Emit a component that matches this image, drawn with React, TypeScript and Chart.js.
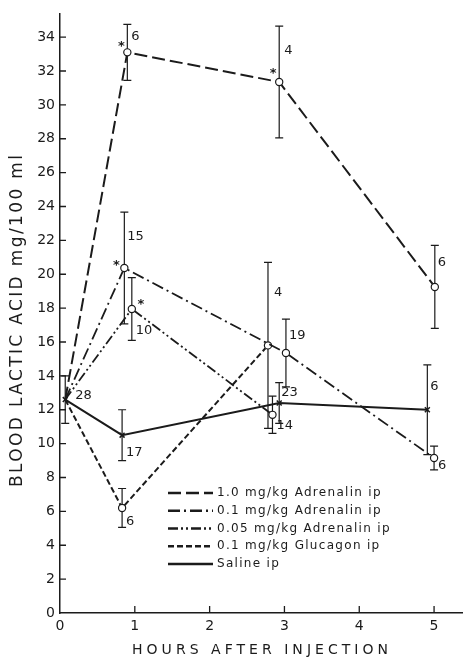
import React, { useEffect, useRef } from "react";
import { Chart, registerables } from "chart.js";

Chart.register(...registerables);

// ---------- data ----------
const seriesLabels = [
  "1.0 mg/kg Adrenalin ip",
  "0.1 mg/kg Adrenalin ip",
  "0.05 mg/kg Adrenalin ip",
  "0.1 mg/kg Glucagon ip",
  "Saline ip",
];

const xTickValues = [0, 1, 2, 3, 4, 5];
const yTickValues = [0, 2, 4, 6, 8, 10, 12, 14, 16, 18, 20, 22, 24, 26, 28, 30, 32, 34];

// control (time 0), shared start of every curve
const controlHour = 0.07;
const controlMean = 12.6;
const controlSem = 1.4;
const controlN = "28";

const adr10Hours = [0.9, 2.93, 5.01];
const adr10Mean = [33.1, 31.35, 19.25];
const adr10Sem = [1.65, 3.3, 2.45];
const adr10N = ["6", "4", "6"];
const adr10Sig = [true, true, false];

const adr01Hours = [0.86, 3.02, 5.0];
const adr01Mean = [20.37, 15.35, 9.15];
const adr01Sem = [3.3, 2.0, 0.7];
const adr01N = ["15", "19", "6"];
const adr01Sig = [true, false, false];

const adr005Hours = [0.96, 2.84];
const adr005Mean = [17.95, 11.7];
const adr005Sem = [1.85, 1.1];
const adr005N = ["10", "14"];
const adr005Sig = [true, false];

const glucHours = [0.83, 2.78];
const glucMean = [6.2, 15.8];
const glucSem = [1.15, 4.9];
const glucN = ["6", "4"];
const glucSig = [false, false];

const salineHours = [0.83, 2.93, 4.91];
const salineMean = [10.5, 12.4, 12.0];
const salineSem = [1.5, 1.2, 2.65];
const salineN = ["17", "23", "6"];
const salineSig = [false, false, false];

// ---------- layout / style (label offsets in px, relative to the point) ----------
const INK = "#1b1b1b";
const FONT = "'DejaVu Sans', sans-serif";

const adr10NOffsets = [[0, 0], [4, -16], [5, -31], [3, -24]];
const adr01NOffsets = [[0, 0], [3, -31], [3, -17], [4, 8]];
const adr005NOffsets = [[0, 0], [4, 22], [4, 11]];
const glucNOffsets = [[0, 0], [4, 14], [6, -53]];
const salineNOffsets = [[10, -4], [4, 17], [2, -10], [3, -23]];

const adr10StarOffsets = [[0, 0], [-6, -6], [-6, -8], [0, 0]];
const adr01StarOffsets = [[0, 0], [-8, -2], [0, 0], [0, 0]];
const adr005StarOffsets = [[0, 0], [9, -4], [0, 0]];

function pts(hours: number[], means: number[]) {
  return [{ x: controlHour, y: controlMean }].concat(
    hours.map((h, i) => ({ x: h, y: means[i] }))
  );
}

function circleRadii(n: number) {
  return [0].concat(new Array(n).fill(3.6));
}

const errorBarPlugin = {
  id: "errorBars",
  beforeDatasetsDraw(chart: any) {
    const ctx = chart.ctx;
    const ys = chart.scales.y;
    ctx.save();
    ctx.strokeStyle = INK;
    ctx.lineWidth = 1.2;
    ctx.setLineDash([]);
    chart.data.datasets.forEach((ds: any, i: number) => {
      const meta = chart.getDatasetMeta(i);
      (ds.sem || []).forEach((s: number | null, j: number) => {
        if (s == null) return;
        const el = meta.data[j];
        const v = ds.data[j].y;
        const top = ys.getPixelForValue(v + s);
        const bot = ys.getPixelForValue(v - s);
        const x = el.x;
        ctx.beginPath();
        ctx.moveTo(x, top);
        ctx.lineTo(x, bot);
        ctx.moveTo(x - 4, top);
        ctx.lineTo(x + 4, top);
        ctx.moveTo(x - 4, bot);
        ctx.lineTo(x + 4, bot);
        ctx.stroke();
      });
    });
    ctx.restore();
  },
};

const annotationPlugin = {
  id: "annotations",
  afterDatasetsDraw(chart: any) {
    const ctx = chart.ctx;
    ctx.save();
    ctx.fillStyle = INK;
    chart.data.datasets.forEach((ds: any, i: number) => {
      const meta = chart.getDatasetMeta(i);
      (ds.nLabels || []).forEach((t: string | null, j: number) => {
        if (!t) return;
        const el = meta.data[j];
        const [dx, dy] = ds.nOffsets[j];
        ctx.font = `13px ${FONT}`;
        ctx.textAlign = "left";
        ctx.textBaseline = "middle";
        ctx.fillText(t, el.x + dx, el.y + dy);
      });
      (ds.sig || []).forEach((s: boolean, j: number) => {
        if (!s) return;
        const el = meta.data[j];
        const [dx, dy] = ds.starOffsets[j];
        ctx.font = `bold 13px ${FONT}`;
        ctx.textAlign = "center";
        ctx.textBaseline = "middle";
        ctx.fillText("*", el.x + dx, el.y + dy);
      });
    });
    ctx.restore();
  },
};

function drawSpaced(ctx: any, text: string, cx: number, cy: number, target: number) {
  ctx.letterSpacing = "0px";
  const w = ctx.measureText(text).width;
  const ls = Math.max(0, (target - w) / (text.length - 1));
  ctx.letterSpacing = `${ls}px`;
  ctx.textAlign = "left";
  ctx.textBaseline = "middle";
  ctx.fillText(text, cx - target / 2, cy);
  ctx.letterSpacing = "0px";
}

const framePlugin = {
  id: "frame",
  afterDraw(chart: any) {
    const ctx = chart.ctx;
    const { left, bottom } = chart.chartArea;
    const xs = chart.scales.x;
    const ys = chart.scales.y;
    ctx.save();
    ctx.strokeStyle = INK;
    ctx.lineWidth = 1.3;
    ctx.setLineDash([]);
    ctx.beginPath();
    xs.ticks.forEach((t: any) => {
      const px = xs.getPixelForValue(t.value);
      if (px <= left + 1) return;
      ctx.moveTo(px, bottom);
      ctx.lineTo(px, bottom - 7);
    });
    ys.ticks.forEach((t: any) => {
      const py = ys.getPixelForValue(t.value);
      if (py >= bottom - 1) return;
      ctx.moveTo(left, py);
      ctx.lineTo(left + 6, py);
    });
    ctx.stroke();

    // axis titles
    ctx.fillStyle = INK;
    ctx.font = `14px ${FONT}`;
    drawSpaced(ctx, "HOURS AFTER INJECTION", 260, 650, 256);
    ctx.save();
    ctx.translate(18, 321);
    ctx.rotate(-Math.PI / 2);
    ctx.font = `17px ${FONT}`;
    drawSpaced(ctx, "BLOOD LACTIC ACID mg/100 ml", 0, 0, 332);
    ctx.restore();

    // legend
    const lx = left + 108;
    const ly = bottom - 120;
    chart.data.datasets.forEach((ds: any, i: number) => {
      const y = ly + i * 17.75;
      ctx.strokeStyle = INK;
      ctx.lineWidth = 2.4;
      ctx.setLineDash(ds.borderDash || []);
      ctx.beginPath();
      ctx.moveTo(lx, y);
      ctx.lineTo(lx + 45, y);
      ctx.stroke();
      ctx.setLineDash([]);
      ctx.font = `12px ${FONT}`;
      ctx.letterSpacing = "1.3px";
      ctx.textAlign = "left";
      ctx.textBaseline = "middle";
      ctx.fillText(ds.label, lx + 49, y);
      ctx.letterSpacing = "0px";
    });
    ctx.restore();
  },
};

export default function App() {
  const ref = useRef<HTMLCanvasElement>(null);

  useEffect(() => {
    if (!ref.current) return;
    const common = {
      borderColor: INK,
      pointBorderColor: INK,
      pointBackgroundColor: "#ffffff",
      pointBorderWidth: 1.2,
      fill: false,
      tension: 0,
    };
    const chart = new Chart(ref.current, {
      type: "line",
      data: {
        datasets: [
          {
            ...common,
            label: seriesLabels[0],
            data: pts(adr10Hours, adr10Mean),
            borderWidth: 2,
            borderDash: [13, 5],
            pointRadius: circleRadii(adr10Hours.length),
            pointStyle: "circle",
            sem: [null, ...adr10Sem],
            nLabels: [null, ...adr10N],
            nOffsets: adr10NOffsets,
            sig: [false, ...adr10Sig],
            starOffsets: adr10StarOffsets,
          },
          {
            ...common,
            label: seriesLabels[1],
            data: pts(adr01Hours, adr01Mean),
            borderWidth: 1.8,
            borderDash: [12, 4, 2, 4],
            pointRadius: circleRadii(adr01Hours.length),
            pointStyle: "circle",
            sem: [null, ...adr01Sem],
            nLabels: [null, ...adr01N],
            nOffsets: adr01NOffsets,
            sig: [false, ...adr01Sig],
            starOffsets: adr01StarOffsets,
          },
          {
            ...common,
            label: seriesLabels[2],
            data: pts(adr005Hours, adr005Mean),
            borderWidth: 1.8,
            borderDash: [10, 3, 2, 3, 2, 3],
            pointRadius: circleRadii(adr005Hours.length),
            pointStyle: "circle",
            sem: [null, ...adr005Sem],
            nLabels: [null, ...adr005N],
            nOffsets: adr005NOffsets,
            sig: [false, ...adr005Sig],
            starOffsets: adr005StarOffsets,
          },
          {
            ...common,
            label: seriesLabels[3],
            data: pts(glucHours, glucMean),
            borderWidth: 2,
            borderDash: [6, 3],
            pointRadius: circleRadii(glucHours.length),
            pointStyle: "circle",
            sem: [null, ...glucSem],
            nLabels: [null, ...glucN],
            nOffsets: glucNOffsets,
            sig: [false, ...glucSig],
            starOffsets: [],
          },
          {
            ...common,
            label: seriesLabels[4],
            data: pts(salineHours, salineMean),
            borderWidth: 2,
            borderDash: [],
            pointRadius: 3.5,
            pointStyle: "crossRot",
            pointBorderWidth: 1.5,
            sem: [controlSem, ...salineSem],
            nLabels: [controlN, ...salineN],
            nOffsets: salineNOffsets,
            sig: [false, ...salineSig],
            starOffsets: [],
          },
        ] as any,
      },
      options: {
        animation: false,
        responsive: false,
        layout: { padding: { top: 12, right: 0, left: 0, bottom: 0 } },
        plugins: {
          legend: { display: false },
          tooltip: { enabled: false },
        },
        scales: {
          x: {
            type: "linear",
            min: 0,
            max: 5.38,
            afterFit: (s: any) => {
              s.height = 46;
            },
            afterBuildTicks: (s: any) => {
              s.ticks = xTickValues.map((v) => ({ value: v }));
            },
            grid: { display: false, drawTicks: false },
            border: { display: true, color: INK, width: 1.5 },
            ticks: {
              color: INK,
              padding: 5,
              maxRotation: 0,
              font: { family: FONT, size: 14 },
            },
          },
          y: {
            type: "linear",
            min: 0,
            max: 35.4,
            afterFit: (s: any) => {
              s.width = 60;
            },
            afterBuildTicks: (s: any) => {
              s.ticks = yTickValues.map((v) => ({ value: v }));
            },
            grid: { display: false, drawTicks: false },
            border: { display: true, color: INK, width: 1.5 },
            ticks: {
              color: INK,
              padding: 5,
              font: { family: FONT, size: 14 },
            },
          },
        },
      } as any,
      plugins: [errorBarPlugin, annotationPlugin, framePlugin],
    });
    return () => chart.destroy();
  }, []);

  return (
    <div
      style={{
        position: "fixed",
        left: 0,
        top: 0,
        width: 468,
        height: 659,
        background: "#ffffff",
      }}
    >
      <canvas ref={ref} width={468} height={659} />
    </div>
  );
}
